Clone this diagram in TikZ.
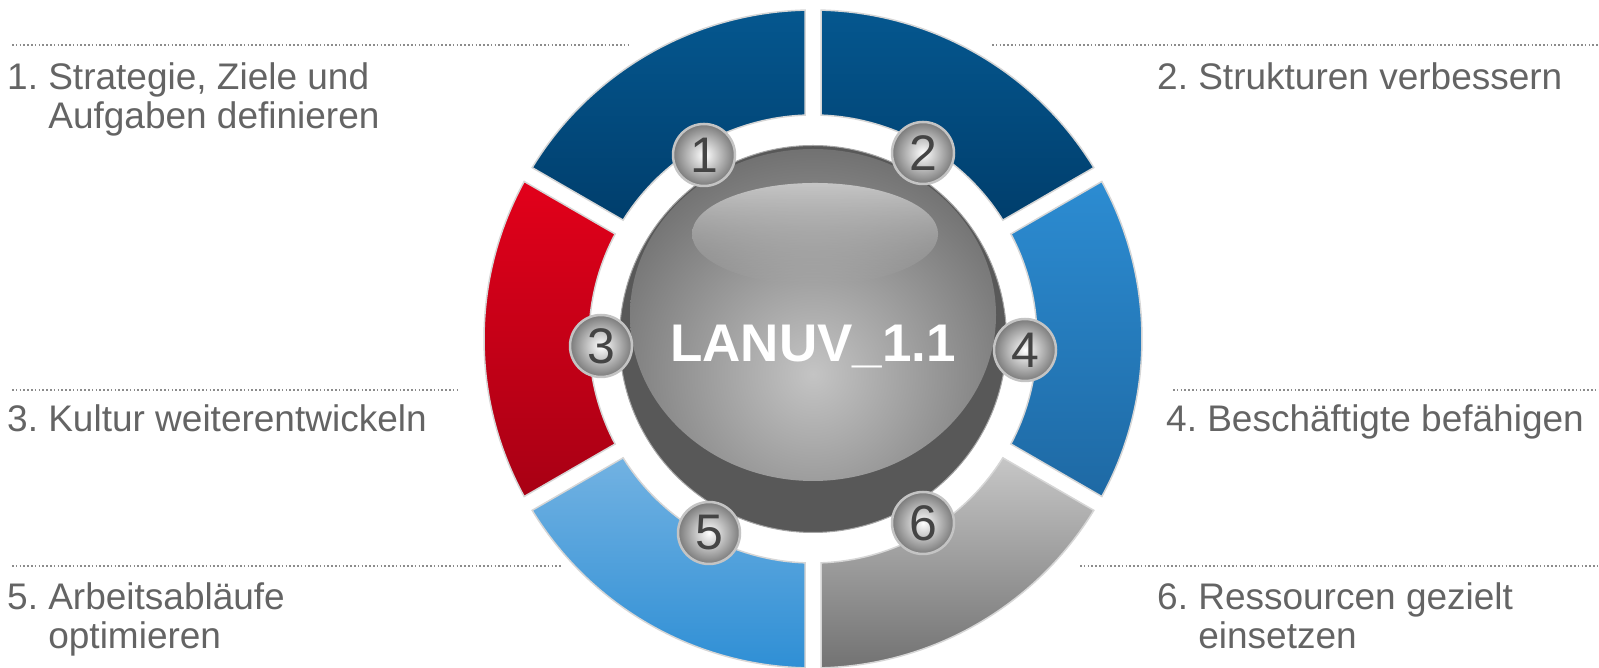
\documentclass[tikz,border=0pt]{standalone}
\usepackage{fontspec}
\setmainfont{Liberation Sans}
\usetikzlibrary{calc,fadings}
\definecolor{txtgray}{HTML}{646464}
\definecolor{dotgray}{HTML}{8C8C8C}
\definecolor{segborder}{HTML}{D6D6D6}
\definecolor{navytop}{HTML}{05578F}
\definecolor{navybot}{HTML}{003E6C}
\definecolor{redtop}{HTML}{E2001A}
\definecolor{redbot}{HTML}{A80014}
\definecolor{bluetop}{HTML}{2C8CD2}
\definecolor{bluebot}{HTML}{1E69A4}
\definecolor{lbluetop}{HTML}{72B2E2}
\definecolor{lbluebot}{HTML}{2F8FD5}
\definecolor{graytop}{HTML}{C6C6C6}
\definecolor{graybot}{HTML}{727272}
\definecolor{spheredark}{HTML}{585858}
\definecolor{spherelight}{HTML}{C4C4C4}
\definecolor{spheremid}{HTML}{6C6C6C}
\definecolor{badgeedge}{HTML}{C4C4C4}
\definecolor{badgeout}{HTML}{7A7A7A}
\definecolor{badgetxt}{HTML}{444444}
\tikzfading[name=fadedown, top color=transparent!15, bottom color=transparent!100]
\tikzset{
  segstyle/.style={draw=segborder, line width=1.5pt},
  dotline/.style={draw=dotgray, line width=1.6pt, dash pattern=on 1.6pt off 2.2pt},
  lbl/.style={anchor=base west, inner sep=0pt, text=txtgray, font=\fontsize{37}{39}\selectfont},
  badge/.style={circle, minimum size=62pt, inner sep=0pt, draw=badgeedge, line width=2.5pt,
    inner color=white, outer color=badgeout, text=badgetxt, font=\fontsize{50}{50}\selectfont},
}
\pgfmathsetmacro{\dO}{asin(8/329)}
\pgfmathsetmacro{\dI}{asin(8/224)}
\newcommand\ringseg[3]{%
  \path[segstyle,#3] ({#1+\dO}:329pt) arc[start angle={#1+\dO}, end angle={#2-\dO}, radius=329pt]
    -- ({#2-\dI}:224pt) arc[start angle={#2-\dI}, end angle={#1+\dI}, radius=224pt] -- cycle;}
\begin{document}
\begin{tikzpicture}[x=1pt,y=1pt]
\useasboundingbox (0,0) rectangle (1599,668);
\coordinate (C) at (813,329);
% ring segments
\begin{scope}[shift={(C)}]
  \ringseg{90}{150}{top color=navytop, bottom color=navybot}
  \ringseg{30}{90}{top color=navytop, bottom color=navybot}
  \ringseg{150}{210}{top color=redtop, bottom color=redbot}
  \ringseg{-30}{30}{top color=bluetop, bottom color=bluebot}
  \ringseg{210}{270}{top color=lbluetop, bottom color=lbluebot}
  \ringseg{270}{330}{top color=graytop, bottom color=graybot}
\end{scope}
% sphere
\fill[spheredark, draw=gray!70, line width=1pt] (C) circle (193.5pt);
\begin{scope}
  \clip (C) circle (193pt);
  \clip ($(C)+(0,24)$) ellipse (183pt and 166pt);
  \shade[inner color=spherelight, outer color=spheremid] ($(C)+(0,-35)$) circle (240pt);
\end{scope}
\path[top color=gray!35, bottom color=gray!55, path fading=fadedown] ($(C)+(2,105)$) ellipse (123pt and 51pt);
\node[anchor=base, inner sep=0pt, text=white, font=\bfseries\fontsize{53}{53}\selectfont] (title) at (813,306) {LANUV\_1.1};
% badges
\node[badge] (b1) at (704,513) {1};
\node[badge] (b2) at (923,515) {2};
\node[badge] (b3) at (601,322) {3};
\node[badge] (b4) at (1025,318) {4};
\node[badge] (b5) at (709,135) {5};
\node[badge] (b6) at (923,145) {6};
% dotted lines
\coordinate (l1a) at (12,623); \coordinate (l1b) at (630,623);
\coordinate (r2a) at (992,623); \coordinate (r2b) at (1599,623);
\coordinate (l3a) at (12,278); \coordinate (l3b) at (459,278);
\coordinate (r4a) at (1173,278); \coordinate (r4b) at (1599,278);
\coordinate (l5a) at (12,102); \coordinate (l5b) at (561,102);
\coordinate (r6a) at (1080,102); \coordinate (r6b) at (1599,102);
\draw[dotline] (l1a) -- (l1b);
\draw[dotline] (r2a) -- (r2b);
\draw[dotline] (l3a) -- (l3b);
\draw[dotline] (r4a) -- (r4b);
\draw[dotline] (l5a) -- (l5b);
\draw[dotline] (r6a) -- (r6b);
% labels
\node[lbl] (t1a) at (7,578) {1.~Strategie, Ziele und};
\node[lbl] (t1b) at (7,539) {\phantom{1.~}Aufgaben definieren};
\node[lbl] (t2) at (1157,578) {2.~Strukturen verbessern};
\node[lbl] (t3) at (7,236) {3.~Kultur weiterentwickeln};
\node[lbl] (t4) at (1166,236) {4.~Beschäftigte befähigen};
\node[lbl] (t5a) at (7,58) {5.~Arbeitsabläufe};
\node[lbl] (t5b) at (7,19) {\phantom{5.~}optimieren};
\node[lbl] (t6a) at (1157,58) {6.~Ressourcen gezielt};
\node[lbl] (t6b) at (1157,19) {\phantom{6.~}einsetzen};
\end{tikzpicture}
\end{document}
